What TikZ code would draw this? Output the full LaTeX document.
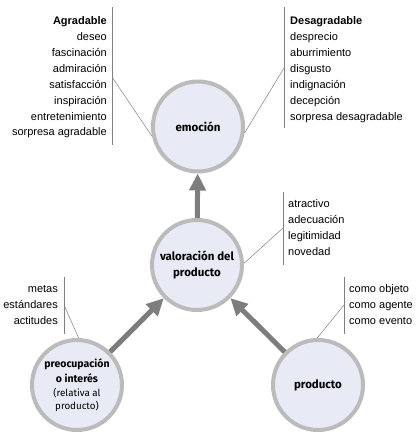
\documentclass[tikz,border=0pt]{standalone}
\usepackage{fontspec}
\setmainfont{Liberation Sans}
\newfontfamily\circfont{Fira Sans}
\usetikzlibrary{arrows.meta}
\definecolor{circfill}{HTML}{E8EBF5}
\definecolor{circedge}{HTML}{BBBBBB}
\definecolor{arrowgray}{HTML}{7D7D7D}
\definecolor{linegray}{HTML}{808080}
\begin{document}
\begin{tikzpicture}[x=1pt,y=1pt,
    tema/.style={circle,draw=circedge,line width=4pt,fill=circfill,minimum size=90pt,
      inner sep=0pt,align=center,font=\circfont\bfseries\fontsize{11.5}{15.5}\selectfont},
    flecha/.style={draw=arrowgray,line width=5pt,-{Triangle[length=17pt,width=16pt]}},
    guia/.style={draw=linegray,line width=0.5pt},
    raya/.style={draw=linegray,line width=0.8pt},
    lista/.style={inner sep=0pt,font=\fontsize{11}{12}\selectfont}]
    \useasboundingbox (0,0) rectangle (417,437);
    % circles
    \node[tema] (emo) at (198,310.5) {emoción};
    \node[tema] (val) at (197,172) {valoración del\\producto};
    \node[tema,font=\circfont\bfseries\fontsize{10.5}{15}\selectfont] (pre) at (77,52) {preocupación\\o interés\\[-1pt]{\mdseries\fontsize{9.8}{12}\selectfont (relativa al}\\[-2pt]{\mdseries\fontsize{9.8}{12}\selectfont producto)}};
    \node[tema] (prod) at (318,52) {producto};
    % arrows
    \draw[flecha] (val) -- (emo);
    \draw[flecha] (pre) -- (val);
    \draw[flecha] (prod) -- (val);
    % agradable
    \draw[raya] (112,430) -- (112,292);
    \node[lista,anchor=base east,font=\fontsize{11}{12}\selectfont\bfseries] (agr-0) at (107,412) {Agradable};
    \foreach \t [count=\i] in {deseo,fascinación,admiración,satisfacción,inspiración,entretenimiento,sorpresa agradable}
    {
      \node[lista,anchor=base east] (agr-\i) at (107,412-15.85*\i) {\t};
    }
    \coordinate (agr-pt) at (112,360);
    \draw[guia] (agr-pt) -- (emo.192);
    % desagradable
    \draw[raya] (284,430) -- (284,309);
    \node[lista,anchor=base west,font=\fontsize{11}{12}\selectfont\bfseries] (des-0) at (290,412) {Desagradable};
    \foreach \t [count=\i] in {desprecio,aburrimiento,disgusto,indignación,decepción,sorpresa desagradable}
    {
      \node[lista,anchor=base west] (des-\i) at (290,412-15.85*\i) {\t};
    }
    \coordinate (des-pt) at (284,369);
    \draw[guia] (des-pt) -- (emo.-8);
    % valoracion
    \draw[raya] (283,245) -- (283,172);
    \foreach \t [count=\i] in {atractivo,adecuación,legitimidad,novedad}
    {
      \node[lista,anchor=base west] (val-\i) at (288,245-15.9*\i) {\t};
    }
    \coordinate (val-pt) at (283,209);
    \draw[guia] (val-pt) -- (val.2);
    % producto
    \draw[raya] (344,160) -- (344,103);
    \foreach \t [count=\i] in {como objeto,como agente,como evento}
    {
      \node[lista,anchor=base west] (prod-\i) at (349,160-15.9*\i) {\t};
    }
    \coordinate (prod-pt) at (344,132);
    \draw[guia] (prod-pt) -- (prod.91);
    % preocupacion
    \draw[raya] (64,160) -- (64,103);
    \foreach \t [count=\i] in {metas,estándares,actitudes}
    {
      \node[lista,anchor=base east] (pre-\i) at (58,160-15.9*\i) {\t};
    }
    \coordinate (pre-pt) at (64,132);
    \draw[guia] (pre-pt) -- (pre.88);
  \end{tikzpicture}
\end{document}
